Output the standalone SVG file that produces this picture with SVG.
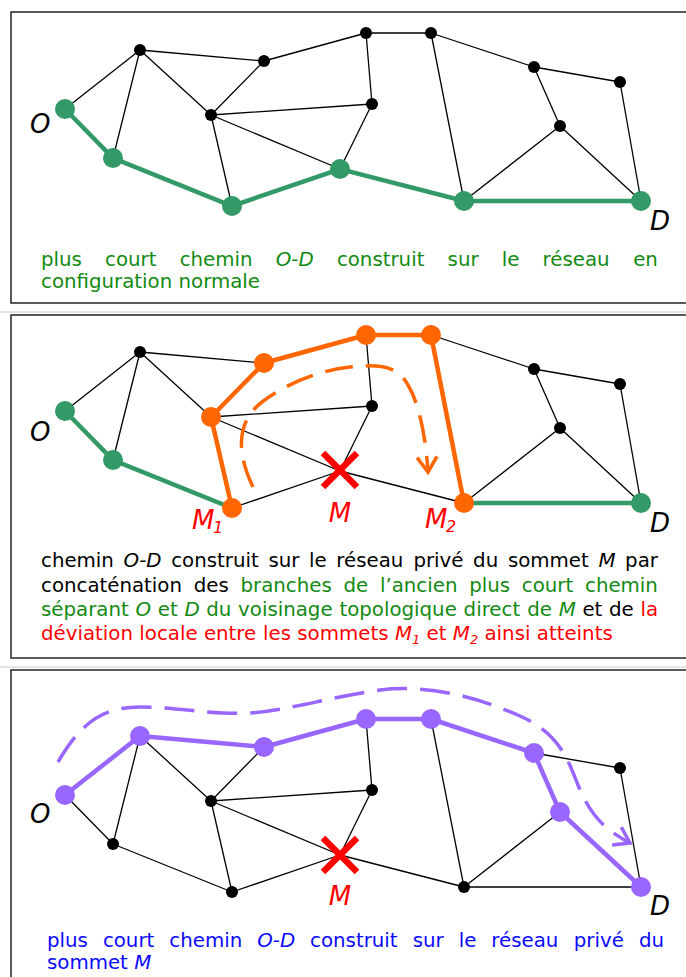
<svg xmlns="http://www.w3.org/2000/svg" width="686" height="977" viewBox="0 0 686 977">
<style>
.frame{fill:none;stroke:#000;stroke-width:1.3}
.sep{stroke:#c8c8c8;stroke-width:1}
.e{stroke:#000;stroke-width:1.3;fill:none}
.pg{stroke:#339966;stroke-width:4.5;fill:none;stroke-linecap:round}
.po{stroke:#FF6600;stroke-width:4.5;fill:none;stroke-linecap:round;stroke-linejoin:round}
.pv{stroke:#9966FF;stroke-width:4.5;fill:none;stroke-linecap:round;stroke-linejoin:round}
.dso{stroke:#FF6600;stroke-width:3.5;fill:none;stroke-dasharray:28 13}
.dsv{stroke:#9966FF;stroke-width:3.5;fill:none;stroke-dasharray:30 13}
.n{fill:#000}
.ng{fill:#339966}
.no{fill:#FF6600}
.nv{fill:#9966FF}
.cap{font-family:"DejaVu Sans",Verdana,sans-serif;font-size:19.8px}
.lbl{font-family:"DejaVu Sans",Verdana,sans-serif;font-size:26px;font-style:italic}
.sub{font-size:16px}
.it{font-style:italic}
.gr{fill:#128A12}
.bk{fill:#000}
.rd{fill:#FF0000}
.bl{fill:#0A0AFF}
.x{stroke:#FF0000;stroke-width:6.5;stroke-linecap:butt}
</style>
<defs>
<marker id="arrO" markerUnits="userSpaceOnUse" markerWidth="40" markerHeight="40" refX="0" refY="0" viewBox="-20 -20 40 40" orient="auto">
<path d="M -15 -10 L 0 0 L -15 10" fill="none" stroke="#FF6600" stroke-width="3.5"/>
</marker>
<marker id="arrV" markerUnits="userSpaceOnUse" markerWidth="40" markerHeight="40" refX="0" refY="0" viewBox="-20 -20 40 40" orient="auto">
<path d="M -15 -10 L 0 0 L -15 10" fill="none" stroke="#9966FF" stroke-width="3.5"/>
</marker>
</defs>
<rect width="686" height="977" fill="#fff"/>

<!-- ================= PANEL 1 ================= -->
<g id="panel1">
<rect class="frame" x="11" y="12" width="690" height="291"/>
<g id="connectors1">
<path class="e" d="M65,109L140,50 M140,50L113,158 M140,50L264,61 M140,50L211,115 M264,61L211,115 M264,61L366,33 M211,115L372,104 M211,115L232,206 M211,115L340,169 M372,104L366,33 M372,104L340,169 M366,33L431,33 M431,33L464,201 M431,33L534,67 M534,67L620,82 M534,67L560,126 M560,126L464,201 M560,126L641,201 M620,82L641,201"/>
<path class="pg" d="M65,109L113,158L232,206L340,169L464,201L641,201"/>
</g>
<g id="p1-O"><circle class="ng" cx="65" cy="109" r="10"/><text class="lbl bk" x="30" y="133">O</text></g>
<g id="p1-A"><circle class="n" cx="140" cy="50" r="6"/></g>
<g id="p1-B"><circle class="n" cx="264" cy="61" r="6"/></g>
<g id="p1-C"><circle class="n" cx="211" cy="115" r="6"/></g>
<g id="p1-P1"><circle class="ng" cx="113" cy="158" r="10"/></g>
<g id="p1-P2"><circle class="ng" cx="232" cy="206" r="10"/></g>
<g id="p1-P3"><circle class="ng" cx="340" cy="169" r="10"/></g>
<g id="p1-E"><circle class="n" cx="366" cy="33" r="6"/></g>
<g id="p1-F"><circle class="n" cx="431" cy="33" r="6"/></g>
<g id="p1-G"><circle class="n" cx="372" cy="104" r="6"/></g>
<g id="p1-H"><circle class="n" cx="534" cy="67" r="6"/></g>
<g id="p1-I"><circle class="n" cx="620" cy="82" r="6"/></g>
<g id="p1-J"><circle class="n" cx="560" cy="126" r="6"/></g>
<g id="p1-K"><circle class="ng" cx="464" cy="201" r="10"/></g>
<g id="p1-D"><circle class="ng" cx="641" cy="201" r="10"/><text class="lbl bk" x="650" y="230">D</text></g>
<g id="caption1" class="cap gr">
<text y="266"><tspan x="41">plus</tspan><tspan x="105.1">court</tspan><tspan x="179.7">chemin</tspan><tspan x="275.8" class="it">O-D</tspan><tspan x="336.9">construit</tspan><tspan x="447.6">sur</tspan><tspan x="501.8">le</tspan><tspan x="542.6">réseau</tspan><tspan x="633.2">en</tspan></text>
<text x="41" y="288">configuration normale</text>
</g>
</g>

<line class="sep" x1="0" y1="312" x2="686" y2="312"/>

<!-- ================= PANEL 2 ================= -->
<g id="panel2">
<rect class="frame" x="11" y="315" width="690" height="343"/>
<g id="connectors2">
<path class="e" d="M65,411L140,352 M140,352L113,460 M140,352L264,363 M140,352L211,417 M211,417L372,406 M372,406L366,335 M211,417L340,471 M232,508L340,471 M372,406L340,471 M340,471L464,503 M431,335L534,369 M534,369L620,384 M534,369L560,428 M560,428L464,503 M560,428L641,503 M620,384L641,503"/>
<path class="pg" d="M65,411L113,460L232,508"/>
<path class="pg" d="M464,503L641,503"/>
<path class="po" d="M232,508L211,417L264,363L366,335L431,335L464,503"/>
<path class="dso" marker-end="url(#arrO)" d="M253,487C235,450 238,420 262,402C285,384 320,370 350,367C380,364 398,366 408,385C420,405 426,440 428,472"/>
</g>
<g id="p2-O"><circle class="ng" cx="65" cy="411" r="10"/><text class="lbl bk" x="30" y="441">O</text></g>
<g id="p2-A"><circle class="n" cx="140" cy="352" r="6"/></g>
<g id="p2-B"><circle class="no" cx="264" cy="363" r="10"/></g>
<g id="p2-C"><circle class="no" cx="211" cy="417" r="10"/></g>
<g id="p2-P1"><circle class="ng" cx="113" cy="460" r="10"/></g>
<g id="p2-M1"><circle class="no" cx="232" cy="508" r="10"/><text class="lbl rd" x="192" y="529">M<tspan class="sub" x="213" y="533">1</tspan></text></g>
<g id="p2-M"><path class="x" d="M323,453L357,487M357,453L323,487"/><text class="lbl rd" x="340" y="522" text-anchor="middle">M</text></g>
<g id="p2-E"><circle class="no" cx="366" cy="335" r="10"/></g>
<g id="p2-F"><circle class="no" cx="431" cy="335" r="10"/></g>
<g id="p2-G"><circle class="n" cx="372" cy="406" r="6"/></g>
<g id="p2-H"><circle class="n" cx="534" cy="369" r="6"/></g>
<g id="p2-I"><circle class="n" cx="620" cy="384" r="6"/></g>
<g id="p2-J"><circle class="n" cx="560" cy="428" r="6"/></g>
<g id="p2-M2"><circle class="no" cx="464" cy="503" r="10"/><text class="lbl rd" x="425" y="528">M<tspan class="sub" x="446" y="532">2</tspan></text></g>
<g id="p2-D"><circle class="ng" cx="641" cy="503" r="10"/><text class="lbl bk" x="650" y="532">D</text></g>
<g id="caption2" class="cap">
<text y="567" class="bk"><tspan x="41">chemin</tspan><tspan x="123.6" class="it">O-D</tspan><tspan x="171.2">construit</tspan><tspan x="268.4">sur</tspan><tspan x="309">le</tspan><tspan x="336.3">réseau</tspan><tspan x="413.4">privé</tspan><tspan x="473.1">du</tspan><tspan x="507.9">sommet</tspan><tspan x="598.4" class="it">M</tspan><tspan x="625.1">par</tspan></text>
<text y="592"><tspan x="41" class="bk">concaténation</tspan><tspan x="193.8" class="bk">des</tspan><tspan x="240.5" class="gr">branches</tspan><tspan x="343.5" class="gr">de</tspan><tspan x="379.9" class="gr">l’ancien</tspan><tspan x="469.2" class="gr">plus</tspan><tspan x="521.8" class="gr">court</tspan><tspan x="585" class="gr">chemin</tspan></text>
<text y="616" class="gr"><tspan x="41">séparant</tspan><tspan x="135.5" class="it">O</tspan><tspan x="157.8">et</tspan><tspan x="184.4" class="it">D</tspan><tspan x="206.3">du</tspan><tspan x="238.1">voisinage</tspan><tspan x="339.4">topologique</tspan><tspan x="463.6">direct</tspan><tspan x="527.3">de</tspan><tspan x="558.7" class="it">M</tspan><tspan x="582.4" class="bk">et</tspan><tspan x="609" class="bk">de</tspan><tspan x="640.4" class="rd">la</tspan></text>
<text y="640" class="rd"><tspan x="41">déviation</tspan><tspan x="139.3">locale</tspan><tspan x="203.9">entre</tspan><tspan x="263">les</tspan><tspan x="297.3">sommets</tspan><tspan x="394.9" class="it">M</tspan><tspan x="412" y="644" class="it" font-size="13">1</tspan><tspan x="426.6" y="640">et</tspan><tspan x="452.8" class="it">M</tspan><tspan x="470" y="644" class="it" font-size="13">2</tspan><tspan x="484.5" y="640">ainsi</tspan><tspan x="536.8">atteints</tspan></text>
</g>
</g>

<line class="sep" x1="0" y1="667" x2="686" y2="667"/>

<!-- ================= PANEL 3 ================= -->
<g id="panel3">
<rect class="frame" x="11" y="670" width="690" height="340"/>
<g id="connectors3">
<path class="e" d="M65,795L113,844 M140,736L113,844 M113,844L232,892 M140,736L211,801 M264,747L211,801 M211,801L372,790 M211,801L232,892 M211,801L340,855 M232,892L340,855 M372,790L366,719 M372,790L340,855 M340,855L464,887 M431,719L464,887 M534,753L620,768 M620,768L641,887 M560,812L464,887 M464,887L641,887"/>
<path class="pv" d="M65,795L140,736L264,747L366,719L431,719L534,753L560,812L641,887"/>
<path class="dsv" marker-end="url(#arrV)" d="M58,762C80,725 100,707 140,707C180,707 210,715 250,713C290,710 330,697 380,690C430,684 480,698 520,716C560,734 568,760 578,785C590,815 605,830 630,843"/>
</g>
<g id="p3-O"><circle class="nv" cx="65" cy="795" r="10"/><text class="lbl bk" x="30" y="823">O</text></g>
<g id="p3-A"><circle class="nv" cx="140" cy="736" r="10"/></g>
<g id="p3-B"><circle class="nv" cx="264" cy="747" r="10"/></g>
<g id="p3-C"><circle class="n" cx="211" cy="801" r="6"/></g>
<g id="p3-P1"><circle class="n" cx="113" cy="844" r="6"/></g>
<g id="p3-P2"><circle class="n" cx="232" cy="892" r="6"/></g>
<g id="p3-M"><path class="x" d="M323,838L357,872M357,838L323,872"/><text class="lbl rd" x="340" y="905" text-anchor="middle">M</text></g>
<g id="p3-E"><circle class="nv" cx="366" cy="719" r="10"/></g>
<g id="p3-F"><circle class="nv" cx="431" cy="719" r="10"/></g>
<g id="p3-G"><circle class="n" cx="372" cy="790" r="6"/></g>
<g id="p3-H"><circle class="nv" cx="534" cy="753" r="10"/></g>
<g id="p3-I"><circle class="n" cx="620" cy="768" r="6"/></g>
<g id="p3-J"><circle class="nv" cx="560" cy="812" r="10"/></g>
<g id="p3-K"><circle class="n" cx="464" cy="887" r="6"/></g>
<g id="p3-D"><circle class="nv" cx="641" cy="887" r="10"/><text class="lbl bk" x="650" y="915">D</text></g>
<g id="caption3" class="cap bl">
<text y="947"><tspan x="47">plus</tspan><tspan x="102.9">court</tspan><tspan x="169.3">chemin</tspan><tspan x="257.2" class="it">O-D</tspan><tspan x="310.1">construit</tspan><tspan x="412.7">sur</tspan><tspan x="458.7">le</tspan><tspan x="491.3">réseau</tspan><tspan x="573.8">privé</tspan><tspan x="638.9">du</tspan></text>
<text x="47" y="969">sommet <tspan class="it">M</tspan></text>
</g>
</g>
</svg>
